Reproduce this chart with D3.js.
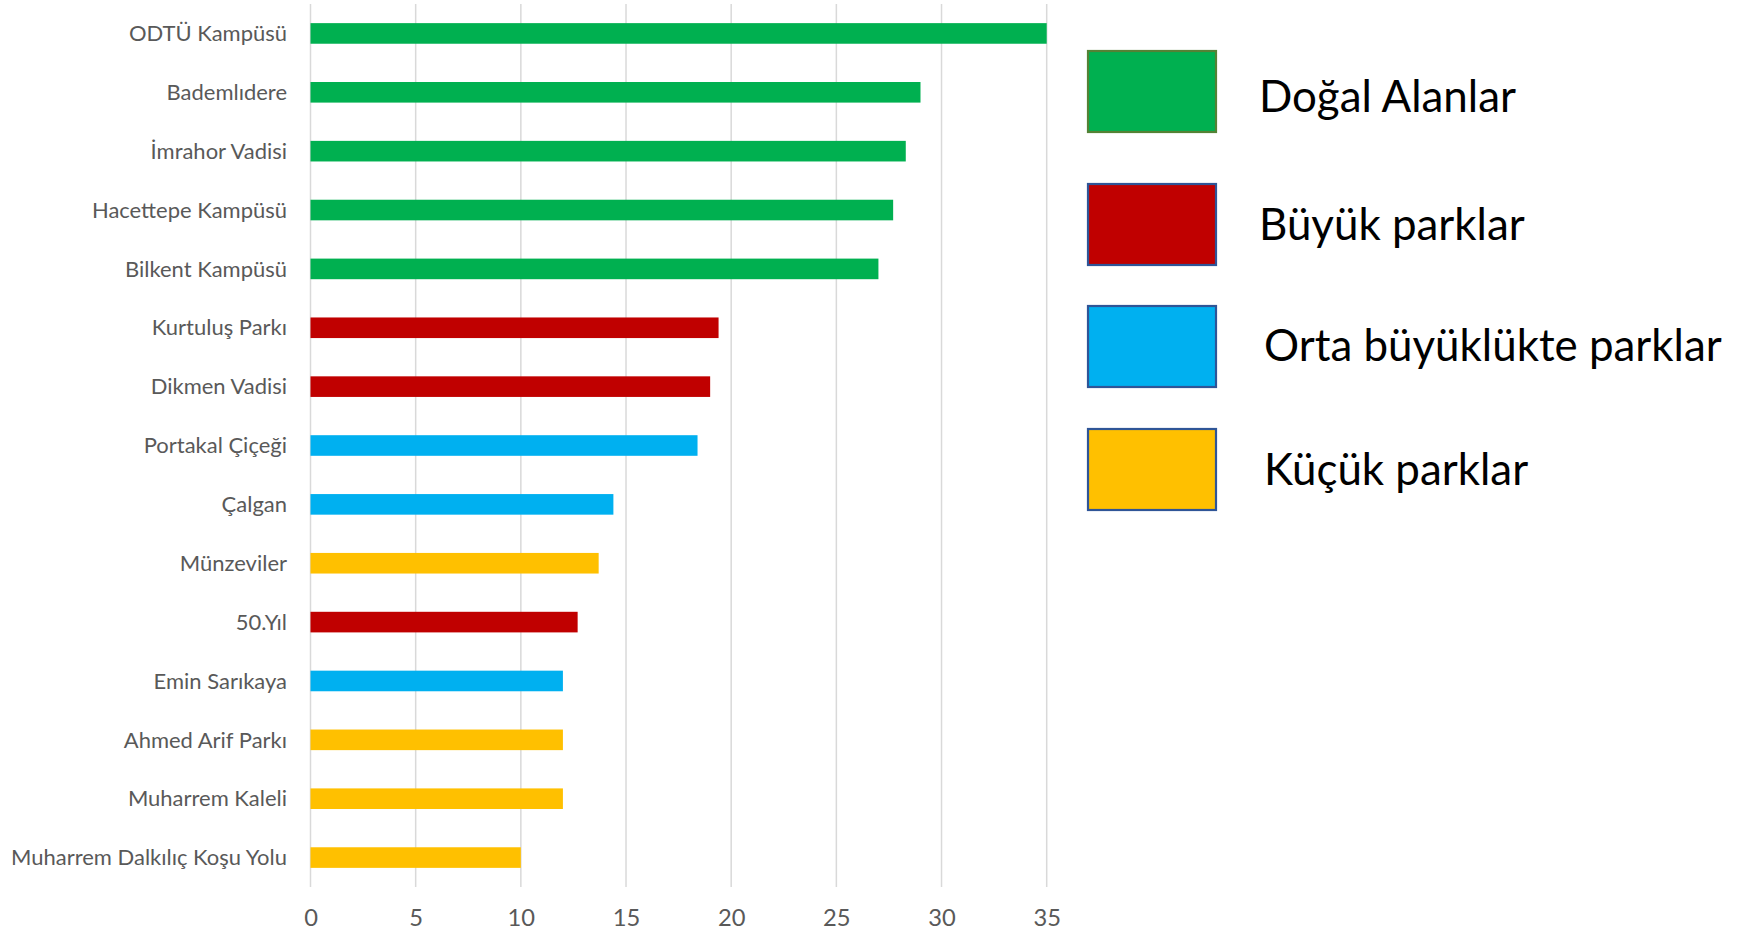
<!DOCTYPE html>
<html><head><meta charset="utf-8">
<script src="https://cdn.jsdelivr.net/npm/d3@7/dist/d3.min.js"></script>
<style>body{margin:0;background:#fff}svg{display:block}</style>
</head><body>
<svg id="c" width="1752" height="930"></svg>
<script>
const categories = ["ODTÜ Kampüsü","Bademlıdere","İmrahor Vadisi","Hacettepe Kampüsü","Bilkent Kampüsü","Kurtuluş Parkı","Dikmen Vadisi","Portakal Çiçeği","Çalgan","Münzeviler","50.Yıl","Emin Sarıkaya","Ahmed Arif Parkı","Muharrem Kaleli","Muharrem Dalkılıç Koşu Yolu"];
const values = [35,29,28.3,27.7,27,19.4,19,18.4,14.4,13.7,12.7,12,12,12,10];
const groups = [0,0,0,0,0,1,1,2,2,3,1,2,3,3,3];
const seriesNames = ["Doğal Alanlar","Büyük parklar","Orta büyüklükte parklar","Küçük parklar"];
const tickValues = [0,5,10,15,20,25,30,35];

const fills = ["#00B050","#C00000","#00B0F0","#FFC000"];
const strokes = ["#548235","#2F5597","#2F5597","#2F5597"];
const FONT = "Lato, 'Open Sans', sans-serif";

const svg = d3.select("#c");
const x = d3.scaleLinear().domain([0,35]).range([310.5,1046.7]);
const y = d3.scaleBand().domain(categories).range([4,887]).paddingInner(0.65).paddingOuter(0.325);

function fit(sel, target){
  const w = sel.node().getComputedTextLength();
  const fs = parseFloat(sel.attr("font-size"));
  return fs*target/w;
}

// gridlines
svg.append("g").selectAll("line").data(tickValues).join("line")
  .attr("x1",d=>x(d)).attr("x2",d=>x(d)).attr("y1",4).attr("y2",887)
  .attr("stroke","#d9d9d9").attr("stroke-width",1.5);

// bars
svg.append("g").selectAll("rect").data(categories).join("rect")
  .attr("x",x(0)).attr("y",d=>y(d))
  .attr("width",(d,i)=>x(values[i])-x(0)).attr("height",y.bandwidth())
  .attr("fill",(d,i)=>fills[groups[i]]);

// category labels
const lab = svg.append("g").selectAll("text").data(categories).join("text")
  .attr("x",287).attr("y",d=>y(d)+y.bandwidth()/2).attr("dy","0.35em")
  .attr("text-anchor","end").attr("font-family",FONT).attr("font-size",20)
  .attr("fill","#595959").text(d=>d);
const lfs = fit(lab.filter((d,i)=>i===14), 276);
lab.attr("font-size",lfs);

// x tick labels
const xAxis = d3.axisBottom(x).tickValues(tickValues).tickSize(0).tickPadding(0);
const ga = svg.append("g").attr("transform","translate(0,918)").call(xAxis);
ga.select(".domain").remove();
ga.selectAll("text").attr("dy","0.35em").attr("font-family",FONT).attr("font-size",lfs*1.08).attr("fill","#595959");

// legend
const boxTops = [51,184,306,429];
const textY = [97,225,346,470];
const textX = [1259,1259,1264,1264];
const lg = svg.append("g");
lg.selectAll("rect").data(seriesNames).join("rect")
  .attr("x",1088).attr("y",(d,i)=>boxTops[i]).attr("width",128).attr("height",81)
  .attr("fill",(d,i)=>fills[i]).attr("stroke",(d,i)=>strokes[i]).attr("stroke-width",2.2);
const lt = lg.selectAll("text").data(seriesNames).join("text")
  .attr("x",(d,i)=>textX[i]).attr("y",(d,i)=>textY[i]).attr("dy","0.35em")
  .attr("font-family",FONT).attr("font-size",40).attr("fill","#000").text(d=>d);
const tfs = fit(lt.filter((d,i)=>i===2), 458);
lt.attr("font-size",tfs);
</script>
</body></html>
